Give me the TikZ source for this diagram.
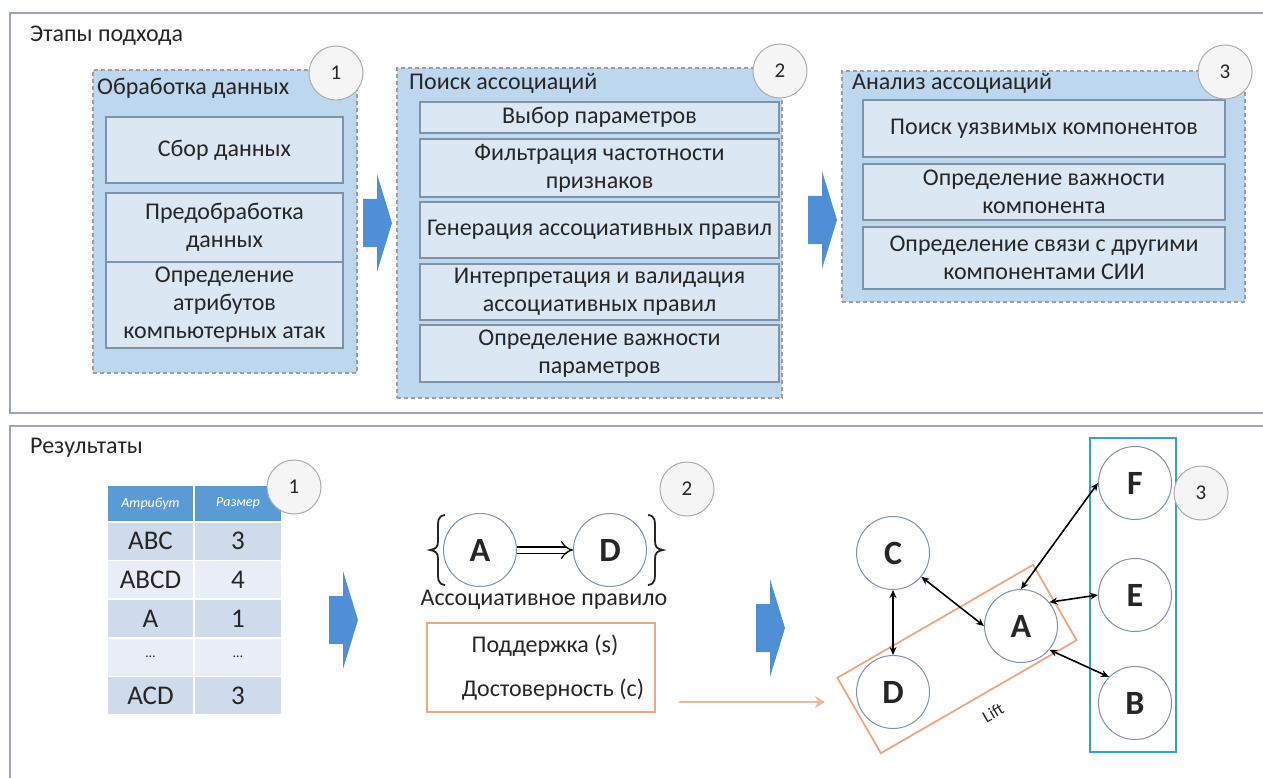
\documentclass[tikz,border=0pt]{standalone}
\usepackage{fontspec}
\setmainfont{Carlito}
\usetikzlibrary{arrows.meta,positioning}

\definecolor{framegray}{HTML}{9AA8B6}
\definecolor{panelblue}{HTML}{BDD7EE}
\definecolor{boxblue}{HTML}{DCE7F4}
\definecolor{boxedge}{HTML}{7E92A8}
\definecolor{arrowblue}{HTML}{4F8FD6}
\definecolor{headblue}{HTML}{5B9BD5}
\definecolor{rowdark}{HTML}{CFDAEA}
\definecolor{rowlight}{HTML}{E9EEF6}
\definecolor{liftorange}{HTML}{EBA882}
\definecolor{groupcyan}{HTML}{2CA3DA}
\definecolor{textgray}{HTML}{262626}

\tikzset{
  frame/.style={framegray, line width=1.5pt},
  title/.style={anchor=base west, inner sep=0},
  stage/.style={draw=gray!75, dash pattern=on 4pt off 3pt, line width=1.2pt, fill=panelblue},
  substep/.style={draw=boxedge, line width=1.2pt, fill=boxblue, align=center},
  numcircle/.style={circle, draw=gray!65, line width=1pt, fill=gray!8, minimum size=54, inner sep=0,
    font=\fontsize{21}{21}\selectfont},
  letter/.style={circle, draw=boxedge, line width=1pt, minimum size=73, inner sep=0,
    font=\fontsize{34}{34}\selectfont\bfseries},
  cell/.style={draw=white, line width=1.5pt, minimum width=87, minimum height=38.6, inner sep=0,
    font=\fontsize{27}{27}\selectfont},
  headcell/.style={cell, fill=headblue, minimum height=37, text=white,
    font=\fontsize{14}{14}\selectfont\itshape},
  link/.style={{Stealth[length=8pt,width=7pt]}-{Stealth[length=8pt,width=7pt]}, line width=1.6pt, black},
  curly/.style={line width=1.8pt, textgray},
  pics/stagearrow/.style={code={
    \fill[arrowblue] (-14,-24) -- (0,-24) -- (0,-49) -- (15,0) -- (0,49) -- (0,24) -- (-14,24) -- cycle;
  }}
}

\begin{document}
\begin{tikzpicture}[x=1pt, y=-1pt, font=\fontsize{24}{28}\selectfont, text=textgray]
\useasboundingbox (0,0) rectangle (1263,778);

% the two parts of the sheet
\draw[frame] (1263,13) -- (10,13) -- (10,413) -- (1263,413);
\draw[frame] (1263,426) -- (10,426) -- (10,778);
\node[title] (stagestitle) at (30,42) {Этапы подхода};
\node[title] (resultstitle) at (30,453) {Результаты};

% stage 1
\node[stage, minimum width=264, minimum height=303] (stage1) at (225,221.5) {};
\node[title] (stage1title) at (97,95) {Обработка данных};
\node[substep, minimum width=237, minimum height=66] (collect) at (224.5,150) {Сбор данных};
\node[substep, minimum width=237, minimum height=69] (prepare) at (224.5,227.5) {Предобработка\\данных};
\node[substep, minimum width=237, minimum height=86] (attrs) at (224.5,305) {Определение\\атрибутов\\компьютерных атак};
\node[numcircle] (num1) at (336,73) {1};

% stage 2
\node[stage, minimum width=385, minimum height=330] (stage2) at (589.5,233) {};
\node[title] (stage2title) at (409,90) {Поиск ассоциаций};
\node[substep, minimum width=359, minimum height=31] (params) at (599.5,117.5) {Выбор параметров};
\node[substep, minimum width=359, minimum height=58] (filter) at (599.5,168) {Фильтрация частотности\\признаков};
\node[substep, minimum width=359, minimum height=56] (generate) at (599.5,230) {Генерация ассоциативных правил};
\node[substep, minimum width=359, minimum height=56] (validate) at (599.5,292) {Интерпретация и валидация\\ассоциативных правил};
\node[substep, minimum width=359, minimum height=57] (weights) at (599.5,353.5) {Определение важности\\параметров};
\node[numcircle] (num2) at (780,71) {2};

% stage 3
\node[stage, minimum width=403, minimum height=231] (stage3) at (1043.5,186.5) {};
\node[title] (stage3title) at (852,90) {Анализ ассоциаций};
\node[substep, minimum width=362, minimum height=57] (weak) at (1044,128.5) {Поиск уязвимых компонентов};
\node[substep, minimum width=362, minimum height=56] (rank) at (1044,192) {Определение важности\\компонента};
\node[substep, minimum width=362, minimum height=62] (relate) at (1044,258) {Определение связи с другими\\компонентами СИИ};
\node[numcircle] (num3) at (1225,72) {3};

% arrows between the stages and between the results
\foreach \p in {(377,223), (822,220), (343,620), (770,628)}
  \pic at \p {stagearrow};

% result 1: table of attribute sets
\node[headcell] (attrhead) at (150.5,503.5) {Атрибут};
\node[headcell, minimum width=88] (sizehead) at (238,503.5) {Размер};
\foreach \name/\val [count=\i] in {ABC/3, ABCD/4, A/1, {\fontsize{14}{14}\selectfont …}/{\fontsize{14}{14}\selectfont …}, ACD/3} {
  \pgfmathsetmacro\rowy{541.3+(\i-1)*38.6}
  \ifodd\i \def\rowfill{rowdark}\else \def\rowfill{rowlight}\fi
  \node[cell, fill=\rowfill] (attr\i) at (150.5,\rowy) {\name};
  \node[cell, fill=\rowfill, minimum width=88] (size\i) at (238,\rowy) {\val};
}
\node[numcircle] (res1) at (294,487) {1};

% result 2: association rule and its measures
\node[letter] (ruleA) at (480,550) {A};
\node[letter] (ruleD) at (610,550) {D};
% curly braces round the rule
\draw[curly] (445,515) .. controls (437,516) and (438,522) .. (438,530) -- (438,541)
  .. controls (438,547) and (436,549) .. (430,550) .. controls (436,551) and (438,553) .. (438,559)
  -- (438,570) .. controls (438,578) and (437,584) .. (445,585);
\draw[curly] (648,515) .. controls (656,516) and (655,522) .. (655,530) -- (655,541)
  .. controls (655,547) and (657,549) .. (663,550) .. controls (657,551) and (655,553) .. (655,559)
  -- (655,570) .. controls (655,578) and (656,584) .. (648,585);
\draw[double, double distance=5pt, line width=1.3pt, -{Implies}] (ruleA) -- (ruleD);
\node (rulename) at (544,600) {Ассоциативное правило};
\node[draw=liftorange, line width=1.8pt, minimum width=228, minimum height=89] (measures) at (541,667.5) {};
\node (support) at (545,646) {Поддержка (s)};
\node (confidence) at (553,690) {Достоверность (c)};
\node[numcircle] (res2) at (687,489) {2};

\coordinate (rulesout) at (679,702);
\coordinate (liftin) at (825,702);
\draw[liftorange!80, line width=2.5pt, -{Stealth[length=10pt,width=12pt]}] (rulesout) -- (liftin);

% result 3: components linked through lift
\node[draw=liftorange, line width=1.8pt, minimum width=226, minimum height=87, rotate=30] (lift) at (957,659) {};
\node[rotate=30, font=\fontsize{17}{17}\selectfont] (liftlabel) at (993,713) {Lift};
\node[draw=groupcyan, line width=2.5pt, minimum width=86, minimum height=314] (group) at (1133,595) {};

\node[letter] (C) at (893,553) {C};
\node[letter] (D) at (893,692) {D};
\node[letter] (A) at (1021,626) {A};
\node[letter] (F) at (1135,483) {F};
\node[letter] (E) at (1135,595) {E};
\node[letter] (B) at (1135,703) {B};

\draw[link] (C.south) -- (D.north);
\draw[link] (C.-40) -- (A.west);
\draw[link] (A.north) -- (F.west);
\draw[link] (A.40) -- (E.west);
\draw[link] (A.-40) -- (B.135);

\node[numcircle] (res3) at (1201,493) {3};
\end{tikzpicture}
\end{document}
